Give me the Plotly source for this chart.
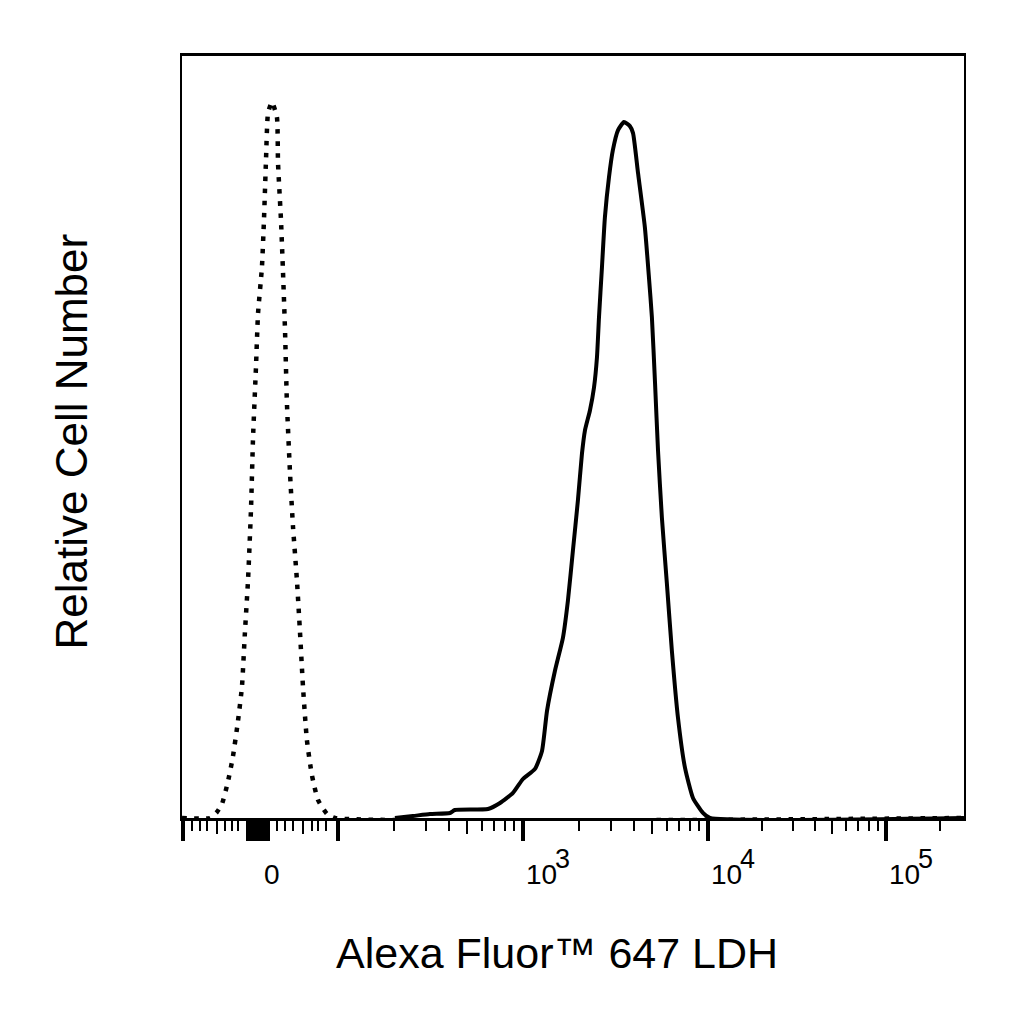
import numpy as np
import plotly.graph_objects as go

# x is in display units of the biexponential scale (10^3 -> 3, 10^4 -> 4, ...)
# y is relative cell number, 0-100 of the plot height

stained_x = [2.308, 2.405, 2.497, 2.605, 2.632, 2.811, 2.876, 2.946, 3.000, 3.065,
             3.103, 3.130, 3.173, 3.216, 3.243, 3.270, 3.297, 3.319, 3.335, 3.362,
             3.384, 3.400, 3.411, 3.427, 3.443, 3.465, 3.486, 3.514, 3.546, 3.578,
             3.595, 3.622, 3.659, 3.681, 3.697, 3.714, 3.730, 3.751, 3.778, 3.805,
             3.838, 3.876, 3.919, 3.973, 4.011, 5.384]
stained_y = [0, 0.26, 0.53, 0.66, 1.05, 1.18, 1.97, 3.29, 5.12, 6.44,
             8.80, 14.06, 19.32, 23.65, 28.52, 35.09, 41.66, 47.83, 50.85, 53.48,
             56.50, 60.45, 65.70, 72.27, 78.84, 84.10, 87.65, 90.28, 91.33, 90.80,
             89.88, 84.63, 77.53, 70.96, 65.70, 57.03, 48.23, 39.42, 30.75, 21.94,
             13.14, 6.57, 2.63, 0.66, 0, 0]

control_x = [1.157, 1.308, 1.346, 1.373, 1.405, 1.432, 1.459, 1.481, 1.497, 1.514,
             1.530, 1.541, 1.557, 1.568, 1.589, 1.600, 1.611, 1.622, 1.643, 1.670,
             1.676, 1.692, 1.703, 1.714, 1.724, 1.741, 1.757, 1.778, 1.795, 1.811,
             1.832, 1.859, 1.892, 1.941, 1.984, 5.384]
control_y = [0, 0, 0.79, 1.84, 4.73, 8.02, 12.61, 17.21, 24.31, 31.27,
             40.60, 49.93, 59.26, 66.23, 72.27, 78.45, 86.33, 92.51, 93.96, 91.98,
             85.94, 78.45, 71.62, 63.86, 54.53, 45.20, 38.24, 31.27, 24.31, 17.21,
             10.25, 5.65, 2.37, 0.53, 0, 0]

# axis ticks
decade_pos = [3.0, 4.0, 4.962]
decade_exp = ["3", "4", "5"]
zero_pos = 1.643
x_range = [1.157, 5.384]

major_ticks = [1.162, 1.514, 1.535, 1.557, 1.578, 1.600, 1.622, 2.0, 3.0, 4.0, 4.962]
linear_minor = [1.211, 1.254, 1.292, 1.389, 1.427, 1.459,
                1.670, 1.714, 1.757, 1.859, 1.892, 1.935]
mid_ticks = [1.346, 1.811, 2.699, 3.699, 4.672]

log_minor = []
for k in [2, 3, 4, 6, 7, 8, 9]:
    log_minor.append(2 + np.log10(k))
    log_minor.append(3 + np.log10(k))
    log_minor.append(4 + 0.962 * np.log10(k))
log_minor.append(4.962 + 0.962 * np.log10(2))
minor_ticks = sorted(linear_minor + log_minor)

FONT = "Liberation Sans, Arial, sans-serif"

fig = go.Figure()

fig.add_trace(go.Scatter(
    x=control_x, y=control_y, mode="lines",
    line=dict(color="black", width=4.5, dash="4.5px,7.5px", shape="spline", smoothing=0.5),
    xaxis="x2", hoverinfo="skip", showlegend=False,
))
fig.add_trace(go.Scatter(
    x=stained_x, y=stained_y, mode="lines",
    line=dict(color="black", width=4, shape="spline", smoothing=0.5),
    hoverinfo="skip", showlegend=False,
))

annotations = [
    dict(text="0", x=zero_pos, xref="x", y=-0.0736, yref="paper",
         xanchor="center", yanchor="middle", showarrow=False,
         font=dict(size=28, color="black", family=FONT)),
]
for pos, ex in zip(decade_pos, decade_exp):
    annotations.append(dict(text="10", x=pos, xref="x", y=-0.0736, yref="paper",
                            xanchor="left", yanchor="middle", xshift=1, showarrow=False,
                            font=dict(size=28, color="black", family=FONT)))
    annotations.append(dict(text=ex, x=pos, xref="x", y=-0.0539, yref="paper",
                            xanchor="left", yanchor="middle", xshift=30, showarrow=False,
                            font=dict(size=27, color="black", family=FONT)))

annotations.append(dict(text="Alexa Fluor™ 647 LDH", x=0.480, xref="paper",
                        y=-0.1774, yref="paper", xanchor="center", yanchor="middle",
                        showarrow=False, font=dict(size=43, color="black", family=FONT)))
annotations.append(dict(text="Relative Cell Number", x=-0.1407, xref="paper",
                        y=0.494, yref="paper", xanchor="center", yanchor="middle",
                        textangle=-90, showarrow=False,
                        font=dict(size=44, color="black", family=FONT)))

fig.update_layout(
    width=1024, height=1024,
    margin=dict(l=174, r=68, t=48, b=214),
    paper_bgcolor="white", plot_bgcolor="white",
    font=dict(family=FONT, color="black"),
    xaxis=dict(
        range=x_range, showgrid=False, zeroline=False,
        showline=True, linecolor="black", linewidth=2.5, mirror=True,
        tickmode="array", tickvals=major_ticks, showticklabels=False,
        ticks="outside", ticklen=20, tickwidth=4, tickcolor="black",
        minor=dict(tickmode="array", tickvals=minor_ticks, ticks="outside",
                   ticklen=10, tickwidth=2, tickcolor="black", showgrid=False),
    ),
    xaxis2=dict(
        range=x_range, matches="x", overlaying="x", anchor="y", side="bottom",
        showgrid=False, zeroline=False, showline=False,
        tickmode="array", tickvals=mid_ticks, showticklabels=False,
        ticks="outside", ticklen=15, tickwidth=2, tickcolor="black",
    ),
    yaxis=dict(
        range=[0, 100], showgrid=False, zeroline=False,
        showline=True, linecolor="black", linewidth=2, mirror=True,
        showticklabels=False, ticks="",
    ),
    annotations=annotations,
)

fig.write_html("out.html")
